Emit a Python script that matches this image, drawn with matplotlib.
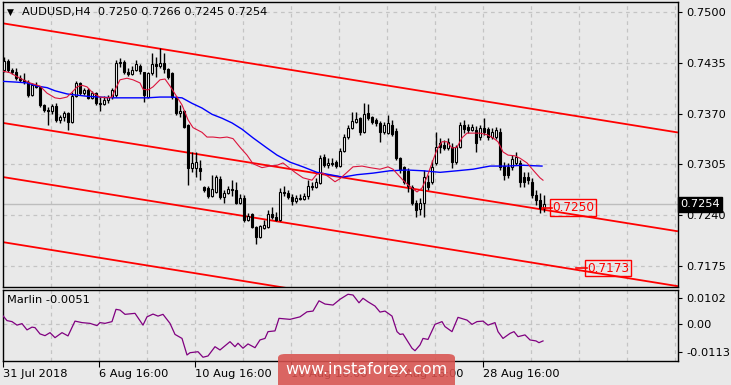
import numpy as np
import matplotlib.pyplot as plt
from matplotlib.patches import FancyBboxPatch
from matplotlib.transforms import blended_transform_factory

# AUDUSD H4 candles, prices in pips (x 0.0001)
opens = [7426, 7437, 7426, 7423, 7415, 7413, 7410, 7394, 7406, 7404,
         7381, 7375, 7373, 7380, 7362, 7366, 7371, 7359, 7392, 7409,
         7396, 7400, 7390, 7396, 7383, 7382, 7387, 7391, 7394, 7434,
         7436, 7423, 7420, 7426, 7431, 7423, 7391, 7422, 7433, 7431,
         7434, 7427, 7422, 7391, 7371, 7373, 7355, 7301, 7301, 7301,
         7276, 7275, 7265, 7270, 7287, 7263, 7269, 7274, 7272, 7256,
         7262, 7234, 7242, 7225, 7213, 7224, 7225, 7242, 7238, 7234,
         7270, 7269, 7263, 7258, 7262, 7261, 7265, 7278, 7276, 7281,
         7315, 7304, 7307, 7308, 7303, 7322, 7340, 7352, 7359, 7364,
         7346, 7371, 7366, 7362, 7358, 7346, 7345, 7355, 7348, 7313,
         7302, 7297, 7276, 7256, 7248, 7256, 7283, 7283, 7307, 7332,
         7330, 7326, 7327, 7308, 7327, 7355, 7353, 7349, 7349, 7340,
         7352, 7350, 7340, 7340, 7346, 7303, 7302, 7302, 7307, 7307,
         7289, 7289, 7283, 7266, 7260, 7250]
closes = [7437, 7426, 7423, 7415, 7413, 7410, 7394, 7406, 7404, 7381,
          7375, 7373, 7380, 7362, 7366, 7371, 7359, 7392, 7409, 7396,
          7400, 7390, 7396, 7383, 7382, 7387, 7391, 7400, 7434, 7436,
          7423, 7420, 7426, 7433, 7424, 7394, 7422, 7433, 7431, 7434,
          7427, 7417, 7391, 7371, 7373, 7353, 7301, 7307, 7308, 7297,
          7272, 7265, 7274, 7289, 7263, 7269, 7274, 7272, 7256, 7262,
          7234, 7239, 7225, 7213, 7227, 7228, 7242, 7238, 7234, 7270,
          7269, 7263, 7258, 7262, 7261, 7265, 7278, 7276, 7283, 7313,
          7304, 7307, 7306, 7303, 7322, 7340, 7352, 7360, 7363, 7346,
          7369, 7364, 7359, 7358, 7346, 7355, 7358, 7344, 7313, 7298,
          7283, 7278, 7256, 7247, 7256, 7289, 7276, 7302, 7327, 7327,
          7326, 7334, 7308, 7327, 7355, 7350, 7349, 7353, 7332, 7352,
          7346, 7340, 7346, 7349, 7302, 7292, 7292, 7312, 7315, 7283,
          7283, 7285, 7266, 7260, 7250, 7254]
highs = [7442, 7440, 7428, 7428, 7419, 7422, 7413, 7409, 7410, 7405,
         7382, 7378, 7382, 7383, 7368, 7373, 7372, 7397, 7411, 7410,
         7403, 7403, 7399, 7397, 7391, 7392, 7394, 7403, 7438, 7441,
         7438, 7428, 7431, 7438, 7433, 7423, 7423, 7447, 7442, 7453,
         7447, 7428, 7423, 7392, 7381, 7375, 7357, 7321, 7321, 7311,
         7278, 7278, 7292, 7292, 7290, 7272, 7278, 7285, 7283, 7267,
         7266, 7243, 7243, 7227, 7228, 7234, 7247, 7251, 7244, 7275,
         7278, 7272, 7267, 7266, 7267, 7269, 7285, 7283, 7288, 7317,
         7318, 7313, 7313, 7311, 7326, 7344, 7355, 7372, 7372, 7366,
         7383, 7382, 7367, 7364, 7360, 7359, 7368, 7362, 7352, 7315,
         7303, 7301, 7279, 7260, 7262, 7298, 7292, 7311, 7346, 7339,
         7336, 7339, 7332, 7330, 7359, 7362, 7357, 7357, 7354, 7355,
         7364, 7353, 7352, 7353, 7352, 7308, 7307, 7317, 7321, 7311,
         7295, 7295, 7288, 7272, 7269, 7266]
lows = [7423, 7423, 7420, 7413, 7410, 7408, 7391, 7392, 7403, 7378,
        7372, 7355, 7369, 7359, 7358, 7360, 7349, 7358, 7391, 7394,
        7394, 7389, 7389, 7381, 7373, 7381, 7383, 7389, 7391, 7429,
        7420, 7418, 7419, 7424, 7420, 7385, 7390, 7419, 7417, 7428,
        7422, 7414, 7389, 7368, 7366, 7352, 7279, 7295, 7289, 7285,
        7270, 7262, 7263, 7269, 7261, 7256, 7267, 7265, 7255, 7255,
        7232, 7233, 7224, 7204, 7211, 7223, 7224, 7236, 7233, 7233,
        7265, 7261, 7253, 7256, 7260, 7260, 7261, 7272, 7275, 7280,
        7302, 7301, 7303, 7301, 7302, 7321, 7338, 7350, 7358, 7343,
        7345, 7362, 7357, 7354, 7334, 7344, 7344, 7341, 7311, 7294,
        7280, 7270, 7253, 7238, 7241, 7238, 7272, 7280, 7304, 7320,
        7324, 7324, 7301, 7306, 7326, 7345, 7345, 7348, 7321, 7336,
        7343, 7336, 7338, 7338, 7298, 7285, 7288, 7298, 7304, 7276,
        7276, 7280, 7262, 7253, 7243, 7245]

# moving averages (bar index, pips)
red_bar = [-0.25, 1.5, 4, 6.5, 9, 10.75, 12.75, 14, 15.75, 17, 18.25, 19.5, 20.75,
           22.25, 24, 25.75, 27, 27.75, 29, 30.75, 32.25, 34, 34.75, 36, 37.25, 39,
           40.25, 41.5, 43.25, 44.5, 46, 47.25, 49.5, 50.75, 52.25, 54, 55.75, 57.25,
           59, 60.75, 62.25, 64.5, 66.5, 68.25, 69.75, 71, 72.75, 74.75, 77, 78.25,
           79.75, 81.5, 82.75, 84, 85.75, 87.25, 89.5, 91.5, 94, 96, 97.25, 98.5,
           99.75, 101, 102, 103.25, 104.5, 105.75, 107, 108.25, 109.5, 110.75, 112,
           113.25, 114.5, 115.75, 117.25, 119, 120.75, 122.25, 123.5, 124.75, 126,
           127.75, 129, 130.75, 132.25, 134, 134.75]
red_val = [7424, 7422, 7415, 7409, 7405, 7396, 7390, 7389, 7391, 7397, 7404, 7406, 7404,
           7396, 7391, 7390, 7391, 7400, 7413, 7415, 7413, 7409, 7401, 7400, 7404, 7413,
           7414, 7405, 7391, 7381, 7362, 7352, 7346, 7340, 7340, 7339, 7340, 7338,
           7327, 7317, 7306, 7301, 7303, 7304, 7307, 7302, 7295, 7288, 7285, 7293,
           7294, 7288, 7283, 7287, 7295, 7302, 7303, 7301, 7299, 7302, 7299, 7292,
           7285, 7279, 7275, 7270, 7275, 7289, 7307, 7324, 7334, 7334, 7326,
           7327, 7339, 7345, 7345, 7345, 7343, 7339, 7334, 7321, 7317,
           7316, 7313, 7307, 7298, 7288, 7285]
blue_bar = [-0.25, 3.25, 5.75, 8.25, 10.75, 12.75, 15.75, 17.25, 20.75, 24, 27.25, 30.75,
            35.75, 39, 42, 44.5, 47, 49.5, 52, 54.5, 57, 59.5, 62.25, 65.75, 68.25, 71.5,
            74.75, 78.25, 81.5, 84.75, 88.25, 92.25, 96.5, 100.75, 104.75, 109, 113.25,
            117.25, 121.5, 125.75, 129.75, 134.5]
blue_val = [7411, 7410, 7409, 7405, 7403, 7399, 7395, 7394, 7392, 7391, 7390, 7390,
            7390, 7391, 7391, 7390, 7383, 7377, 7369, 7364, 7358, 7350, 7339, 7326, 7317, 7308,
            7302, 7295, 7292, 7289, 7292, 7294, 7297, 7298, 7297, 7295, 7297,
            7299, 7303, 7303, 7304, 7303]

# Marlin oscillator
m_bar = [-0.25, 0.75, 2, 3.25, 4.5, 5.75, 7, 7.75, 9, 10.25,
         11.5, 12.75, 14.5, 16, 17.75, 19.5, 21.5, 23.25, 24, 25.25,
         27, 28, 29, 30.25, 32.75, 34.75, 35.75, 37.25, 38.5, 39.75,
         41.5, 42.75, 44.5, 45.75, 46.5, 48.5, 49.75, 51, 52.75, 54,
         56.5, 57.75, 58.5, 59.75, 61, 62.75, 64, 65.25, 66, 67.75,
         68.75, 71.5, 74, 75.75, 77.25, 78.75, 80.25, 82.25, 84, 86,
         87.25, 88.75, 89.75, 91, 92.75, 94, 95.25, 97, 98.25, 99,
         99.75, 102, 102.75, 104, 104.75, 106, 107.75, 109.5, 110.25, 112,
         113.5, 115.75, 117, 118.25, 119.75, 121, 122.75, 123.5, 124.75, 126.5,
         127.5, 128.5, 130.25, 131.5, 133, 133.75, 134.75]
m_val = [0.0031, 0.0012, 0.0008, -0.0006, 0.0000, -0.0025, -0.0014, -0.0016, -0.0041, -0.0048,
         -0.0036, -0.0056, -0.0036, -0.0049, 0.0010, 0.0004, 0.0001, -0.0008, 0.0004, 0.0001,
         0.0008, 0.0057, 0.0054, 0.0037, 0.0041, -0.0006, 0.0027, 0.0038, 0.0030, 0.0037,
         0.0001, -0.0043, -0.0059, -0.0125, -0.0116, -0.0112, -0.0134, -0.0129, -0.0092, -0.0105,
         -0.0072, -0.0092, -0.0078, -0.0098, -0.0081, -0.0096, -0.0065, -0.0059, -0.0032, -0.0029,
         0.0021, 0.0017, 0.0027, 0.0047, 0.0050, 0.0091, 0.0078, 0.0074, 0.0097, 0.0117,
         0.0114, 0.0083, 0.0101, 0.0087, 0.0070, 0.0046, 0.0050, 0.0030, -0.0032, -0.0043,
         -0.0041, -0.0098, -0.0108, -0.0085, -0.0059, -0.0063, -0.0003, 0.0008, -0.0012, -0.0032,
         0.0025, 0.0014, -0.0003, 0.0008, 0.0010, -0.0006, 0.0004, -0.0032, -0.0059, -0.0039,
         -0.0032, -0.0052, -0.0045, -0.0065, -0.0069, -0.0076, -0.0069]

# channel lines: value at first and last bar (pips)
chan_bar = [-0.25, 168.25]
chan_lines = [[7485, 7346], [7358, 7220], [7289, 7150], [7206, 7067]]

price_ticks = [0.7500, 0.7435, 0.7370, 0.7305, 0.7240, 0.7175]
marlin_ticks = [0.0102, 0.0, -0.0113]
marlin_labels = ['0.0102', '0.00', '-0.0113']
date_bars = [-0.25, 23.75, 47.75, 71.75, 95.75, 119.75]
date_labels = ['31 Jul 2018', '6 Aug 16:00', '10 Aug 16:00', '16 Aug 16:00',
               '22 Aug 16:00', '28 Aug 16:00']
last_price = 0.7254
level_labels = [('0.7250', 137.0, 7250, 134.6), ('0.7173', 145.7, 7173, 143.0)]

PIP = 10000.0
o = np.array(opens) / PIP
c = np.array(closes) / PIP
h = np.array(highs) / PIP
l = np.array(lows) / PIP
bars = np.arange(len(c))

W, H = 731, 385
bg = '#e9e9e9'
grid_c = '#c4c4c4'
fs = 8.2
fig = plt.figure(figsize=(W / 100, H / 100), dpi=100)
fig.patch.set_facecolor(bg)

ax = fig.add_axes([3 / W, 1 - 287 / H, 675 / W, 285 / H])
axm = fig.add_axes([3 / W, 1 - 361 / H, 675 / W, 71 / H])
xlim = (-0.25, 168.5)

for a in (ax, axm):
    a.set_facecolor(bg)
    a.set_xlim(*xlim)
    for s in a.spines.values():
        s.set_color('black')
        s.set_linewidth(1)
    for gb in np.arange(11.75, 168, 12):
        a.axvline(gb, color=grid_c, lw=0.9, ls=(0, (3, 3)), zorder=0)
    a.yaxis.tick_right()
    a.tick_params(axis='y', length=3, pad=3, labelsize=fs, direction='out')

# main panel
ax.set_ylim(0.71488, 0.75122)
for p in price_ticks:
    ax.axhline(p, color=grid_c, lw=0.9, ls=(0, (3, 3)), zorder=0)
ax.axhline(last_price, color='#bdbdbd', lw=1, zorder=1)
ax.set_yticks(price_ticks)
ax.set_yticklabels([f'{p:.4f}' for p in price_ticks])
ax.set_xticks([])

for line in chan_lines:
    ax.plot(chan_bar, np.array(line) / PIP, color='#ff0000', lw=1.3, zorder=2)

ax.plot(blue_bar, np.array(blue_val) / PIP, color='#0000ff', lw=1.0, zorder=5)
ax.plot(red_bar, np.array(red_val) / PIP, color='#dc143c', lw=0.8, zorder=5)

ax.vlines(bars, l, h, color='black', lw=1, zorder=3)
up = c >= o
body_lo = np.minimum(o, c)
body_h = np.maximum(np.abs(c - o), 0.00004)
ax.bar(bars, body_h, bottom=body_lo, width=0.7,
       color=np.where(up, 'white', 'black'), edgecolor='black', lw=0.8, zorder=4)

for txt, b, v, b0 in level_labels:
    ax.plot([b0, b], [v / PIP, v / PIP], color='#ff0000', lw=1.2, zorder=6)
    ax.text(b, v / PIP, txt, color='#ff0000', fontsize=fs + 0.5, ha='left', va='center',
            bbox=dict(boxstyle='square,pad=0.15', fc='none', ec='#ff0000', lw=1), zorder=6)

trans = blended_transform_factory(ax.transAxes, ax.transData)
ax.text(1.003, last_price, '0.7254', transform=trans, color='white', fontsize=fs,
        ha='left', va='center', clip_on=False, zorder=10,
        bbox=dict(boxstyle='square,pad=0.2', fc='black', ec='black'))

fig.text(7 / W, 1 - 12 / H, '\u25bc', fontsize=6.5, va='center', ha='left')
fig.text(22 / W, 1 - 12 / H, 'AUDUSD,H4  0.7250 0.7266 0.7245 0.7254',
         fontsize=fs, va='center', ha='left')

# Marlin panel
axm.set_ylim(-0.0149, 0.0134)
axm.axhline(0.0, color=grid_c, lw=0.9, ls=(0, (3, 3)), zorder=0)
axm.plot(m_bar, m_val, color='#800080', lw=0.9, zorder=3)
axm.set_yticks(marlin_ticks)
axm.set_yticklabels(marlin_labels)
axm.set_xticks(date_bars)
axm.set_xticklabels(date_labels)
axm.tick_params(axis='x', length=4, pad=2, labelsize=fs)
for lab in axm.get_xticklabels():
    lab.set_horizontalalignment('left')
fig.text(7 / W, 1 - 300 / H, 'Marlin -0.0051', fontsize=fs, va='center', ha='left')

# watermark
fig.patches.append(FancyBboxPatch((278 / W, -0.02), 177 / W, 0.02 + 31 / H,
                                  boxstyle='round,pad=0,rounding_size=0.01',
                                  transform=fig.transFigure, fc='#d9534f', ec='none',
                                  alpha=0.88, zorder=20))
fig.text(366 / W, 1 - 370 / H, 'www.instaforex.com', color='white', fontsize=11.5,
         ha='center', va='center', zorder=21)

fig.savefig('out.png', dpi=100, facecolor=bg)
